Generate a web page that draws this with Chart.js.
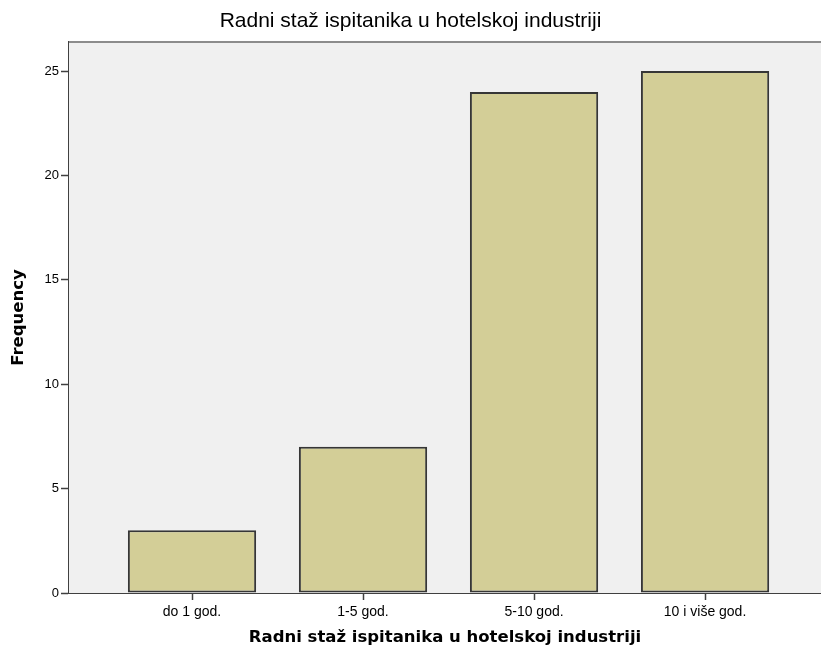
<!DOCTYPE html>
<html>
<head>
<meta charset="utf-8">
<script src="https://cdn.jsdelivr.net/npm/chart.js@4.4.1/dist/chart.umd.min.js"></script>
<style>
  html, body { margin: 0; padding: 0; background: #fff; overflow: hidden; }
  #wrap { width: 821px; height: 653px; }
</style>
</head>
<body>
<div id="wrap"><canvas id="myChart"></canvas></div>
<script>
const categories = ["do 1 god.", "1-5 god.", "5-10 god.", "10 i više god."];
const frequencies = [3, 7, 24, 25];
const yTicks = [0, 5, 10, 15, 20, 25];

const SANS = "'Liberation Sans', Arial, sans-serif";
const WIDE = "'DejaVu Sans', Verdana, sans-serif";

// light gray plot background and the thin frame line along the top
const plotFrame = {
  id: 'plotFrame',
  beforeDatasetsDraw(chart) {
    const { ctx, chartArea: a } = chart;
    ctx.save();
    ctx.fillStyle = '#f0f0f0';
    ctx.fillRect(a.left, a.top, a.right - a.left, a.bottom - a.top);
    ctx.strokeStyle = '#8c8c8c';
    ctx.lineWidth = 2;
    ctx.beginPath();
    ctx.moveTo(a.left, a.top);
    ctx.lineTo(a.right, a.top);
    ctx.stroke();
    ctx.restore();
  }
};

const ctx = document.getElementById('myChart');
new Chart(ctx, {
  type: 'bar',
  data: {
    datasets: [{
      data: frequencies.map((v, i) => ({ x: i + 1, y: v })),
      backgroundColor: '#d3ce97',
      borderColor: '#363636',
      borderWidth: 2,
      borderSkipped: false,
      barPercentage: 0.75,
      categoryPercentage: 1
    }]
  },
  options: {
    responsive: true,
    maintainAspectRatio: false,
    animation: false,
    layout: { padding: 0 },
    plugins: {
      legend: { display: false },
      tooltip: { enabled: false },
      title: {
        display: true,
        text: 'Radni staž ispitanika u hotelskoj industriji',
        color: '#000',
        font: { family: SANS, size: 21, weight: 'normal' },
        padding: { top: 8.4, bottom: 8.4 }
      }
    },
    scales: {
      x: {
        type: 'linear',
        offset: false,
        min: 0.2807,
        max: 4.678,
        afterBuildTicks(scale) { scale.ticks = categories.map((c, i) => ({ value: i + 1 })); },
        afterFit(scale) { scale.height = 60; },
        ticks: {
          color: '#000',
          font: { family: SANS, size: 14 },
          padding: 4,
          maxRotation: 0,
          autoSkip: false,
          callback: (v) => categories[v - 1]
        },
        grid: { offset: false, drawOnChartArea: false, drawTicks: true, tickLength: 7, tickWidth: 1.5, color: '#404040' },
        border: { display: true, color: '#404040', width: 2 },
        title: {
          display: true,
          text: 'Radni staž ispitanika u hotelskoj industriji',
          color: '#000',
          font: { family: WIDE, size: 16.5, weight: 'bold' },
          padding: { top: 0, bottom: 5 }
        }
      },
      y: {
        min: 0,
        max: 26.39,
        afterBuildTicks(scale) { scale.ticks = yTicks.map(v => ({ value: v })); },
        afterFit(scale) { scale.width = 69; },
        ticks: {
          color: '#000',
          font: { family: SANS, size: 13 },
          padding: 2
        },
        grid: { drawOnChartArea: false, drawTicks: true, tickLength: 8, tickWidth: 1.5, color: '#404040' },
        border: { display: true, color: '#404040', width: 2 },
        title: {
          display: true,
          text: 'Frequency',
          color: '#000',
          font: { family: WIDE, size: 16.5, weight: 'bold' },
          padding: { top: 9, bottom: 0 }
        }
      }
    }
  },
  plugins: [plotFrame]
});
</script>
</body>
</html>
